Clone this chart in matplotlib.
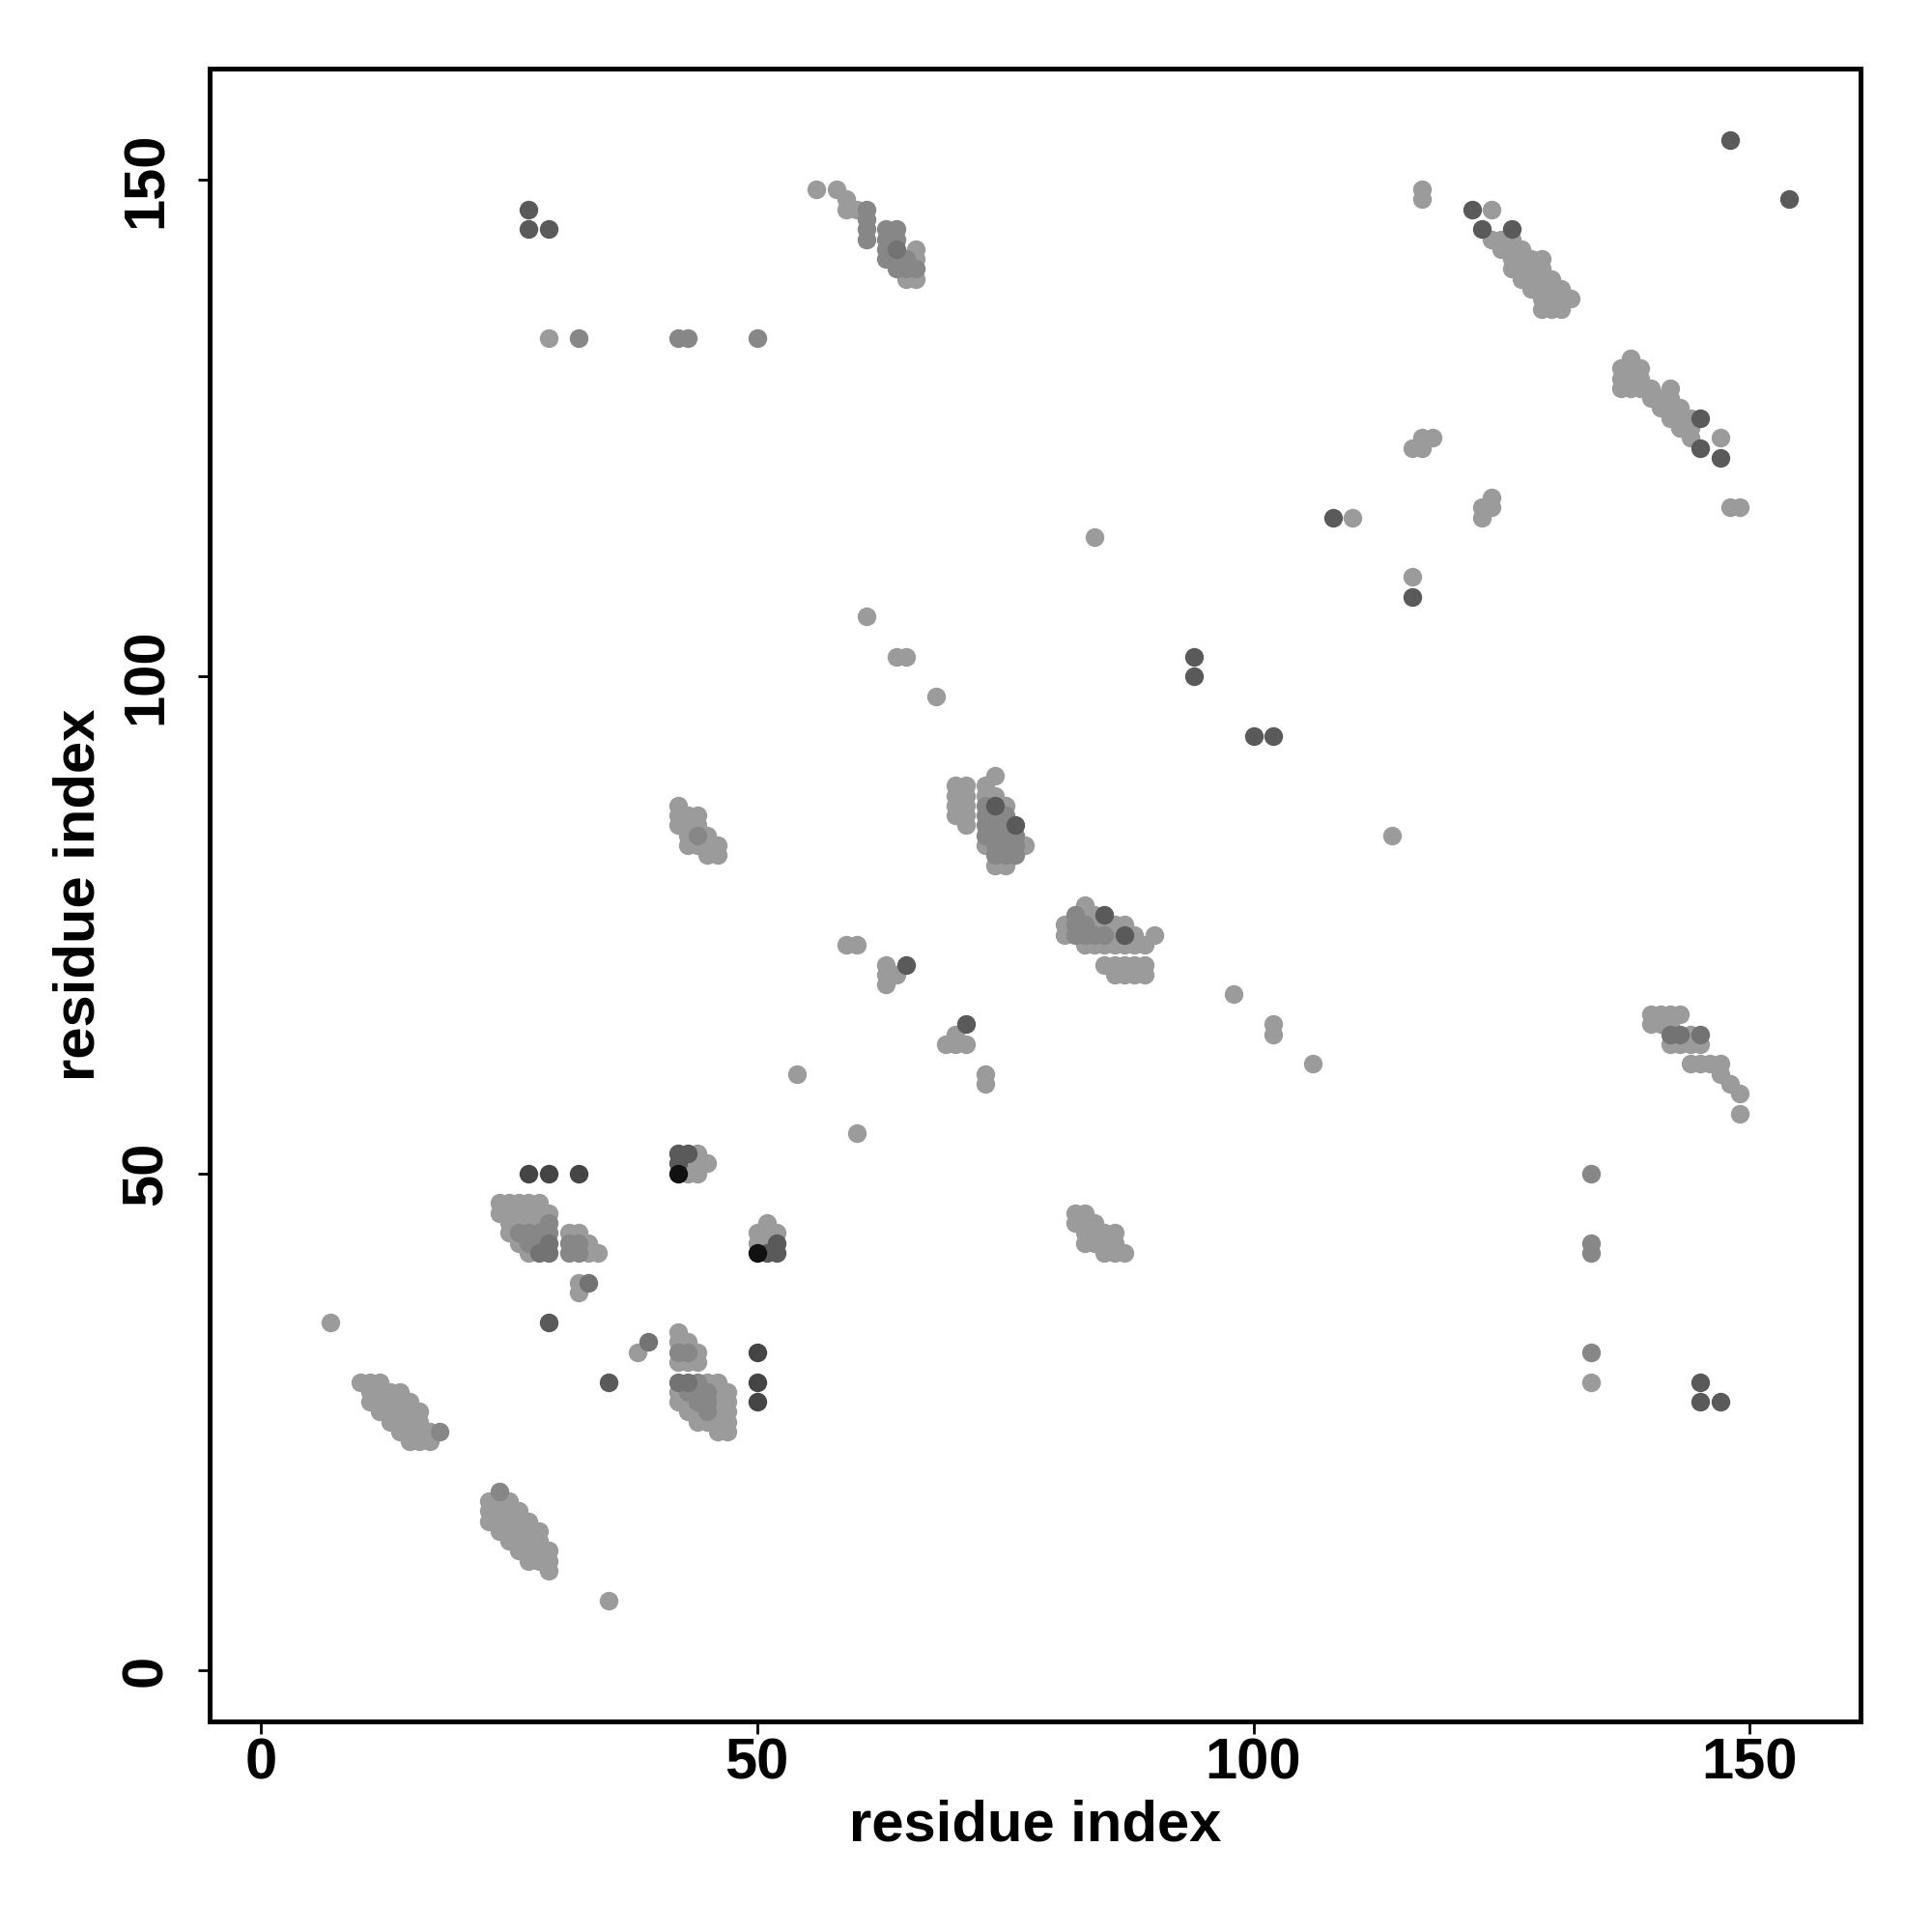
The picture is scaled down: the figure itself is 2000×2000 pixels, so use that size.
import numpy as np
import matplotlib
matplotlib.use('Agg')
from matplotlib import pyplot as plt

# contact pairs (residue i, residue j), grouped by grey level of the dot
light_pts = [
    # isolated contacts
    (7, 35), (35, 7), (54, 60), (60, 54), (59, 73), (60, 73), (63, 71), (63, 70), (63, 69), (64, 70),
    (69, 63), (70, 63), (71, 63), (70, 64), (73, 60), (73, 59), (98, 68), (102, 65), (102, 64), (106, 61),
    (114, 84), (84, 114), (61, 106), (64, 102), (65, 102), (68, 98), (110, 116), (116, 110),
    (116, 123), (117, 123), (117, 124), (118, 124), (123, 116), (123, 117), (124, 117), (124, 118),
    (117, 149), (117, 148), (124, 147), (147, 124), (148, 117), (149, 117), (29, 134), (134, 29),
    (38, 32), (32, 39), (32, 38),
    # block 10-18 / 23-29
    (10, 29), (11, 29), (12, 29), (11, 28), (12, 28), (13, 28), (14, 28),
    (11, 27), (12, 27), (13, 27), (14, 27), (15, 27), (12, 26), (13, 26), (14, 26), (15, 26), (16, 26),
    (13, 25), (14, 25), (15, 25), (16, 25), (14, 24), (15, 24), (16, 24), (17, 24), (15, 23), (16, 23), (17, 23),
    # block 23-29 / 10-18
    (23, 17), (24, 17), (25, 17), (23, 16), (24, 16), (25, 16), (26, 16),
    (23, 15), (24, 15), (25, 15), (26, 15), (27, 15), (24, 14), (25, 14), (26, 14), (27, 14), (28, 14),
    (25, 13), (26, 13), (27, 13), (28, 13), (26, 12), (27, 12), (28, 12), (29, 12),
    (27, 11), (28, 11), (29, 11), (29, 10),
    # block 24-29 / 42-47
    (24, 47), (25, 47), (26, 47), (27, 47), (28, 47), (24, 46), (25, 46), (26, 46), (27, 46), (28, 46),
    (29, 46), (25, 45), (26, 45), (27, 45), (28, 45), (25, 44), (26, 43), (27, 42),
    # block 31-34 / 42-44
    (31, 44), (32, 44), (33, 43), (33, 42), (34, 42),
    # 42-45 / 50-52 and 50-52 / 42-45
    (44, 52), (43, 51), (44, 51), (45, 51), (43, 50), (44, 50),
    (51, 45), (50, 44), (51, 44), (52, 44), (50, 43), (51, 43),
    # 42-44 / 31-34
    (42, 34), (42, 33), (43, 33), (44, 32), (42, 31), (43, 31), (44, 31),
    # 42-47 / 24-29
    (45, 29), (46, 29), (42, 28), (46, 28), (47, 28), (42, 27), (43, 27), (46, 27), (47, 27),
    (43, 26), (44, 26), (46, 26), (47, 26), (44, 25), (45, 25), (46, 25), (47, 25), (46, 24), (47, 24),
    # 42-46 / 82-87
    (42, 87), (42, 86), (42, 85), (43, 86), (43, 85), (43, 84), (43, 83), (44, 86), (44, 85), (44, 83),
    (45, 84), (45, 83), (45, 82), (46, 83), (46, 82),
    # 70-77 / 81-90
    (70, 89), (70, 88), (70, 87), (70, 86), (71, 89), (71, 88), (71, 87), (71, 86), (71, 85),
    (73, 89), (73, 88), (74, 90), (74, 88), (75, 87), (77, 83), (74, 81), (75, 81), (73, 83),
    # 81-90 / 70-77
    (83, 77), (83, 76), (84, 76), (81, 75), (84, 75), (85, 75), (86, 75), (87, 75), (81, 74), (86, 74),
    (88, 74), (90, 74), (83, 73), (84, 73), (85, 73), (86, 73), (87, 73), (88, 73), (89, 73),
    (85, 71), (86, 71), (87, 71), (88, 71), (89, 71), (86, 70), (87, 70), (88, 70), (89, 70),
    # 82-87 / 42-46
    (82, 46), (83, 46), (82, 45), (83, 45), (84, 45), (83, 44), (84, 44), (85, 44), (86, 44),
    (83, 43), (84, 43), (85, 43), (86, 43), (85, 42), (86, 42), (87, 42),
    # 56-66 / 140-149
    (56, 149), (58, 149), (59, 148), (59, 147), (60, 147), (66, 143), (66, 142), (65, 140), (66, 140),
    # 124-132 / 137-144
    (124, 144), (125, 144), (126, 144), (125, 143), (126, 143), (127, 143), (126, 142), (127, 142),
    (128, 142), (129, 142), (126, 141), (127, 141), (128, 141), (129, 141), (127, 140), (128, 140),
    (129, 140), (130, 140), (128, 139), (129, 139), (130, 139), (131, 139), (129, 138), (130, 138),
    (131, 138), (132, 138), (129, 137), (130, 137), (131, 137),
    # 137-144 / 124-132
    (137, 131), (137, 130), (137, 129), (138, 132), (138, 131), (138, 130), (138, 129), (139, 131),
    (139, 130), (139, 129), (140, 129), (140, 128), (141, 128), (141, 127), (142, 129), (142, 128),
    (142, 127), (142, 126), (143, 127), (143, 126), (143, 125), (144, 126), (144, 125), (144, 124),
    # 140-149 / 56-66
    (140, 66), (141, 66), (142, 66), (143, 66), (140, 65), (141, 65), (142, 65), (144, 64),
    (142, 63), (143, 63), (144, 63), (145, 63), (144, 61), (145, 61), (146, 61), (147, 61),
    (147, 60), (148, 59), (149, 58), (149, 56),
]

mid_pts = [
    (134, 50), (134, 43), (134, 42), (134, 32), (32, 134), (42, 134), (43, 134), (50, 134),
    (18, 24), (24, 18),
    (29, 45), (26, 44), (27, 44), (28, 44), (29, 44), (27, 43), (28, 43),
    (31, 43), (32, 43), (31, 42), (32, 42),
    (42, 32), (43, 32),
    (44, 29), (43, 28), (44, 28), (45, 28), (44, 27), (45, 27), (45, 26),
    (44, 84),
    (73, 87), (73, 86), (73, 85), (73, 84), (74, 86), (74, 85), (74, 84), (74, 83), (74, 82),
    (75, 86), (75, 85), (75, 84), (75, 83), (75, 82), (76, 84), (76, 83), (76, 82),
    (82, 76), (82, 75), (83, 75), (82, 74), (83, 74), (84, 74), (85, 74),
    (61, 147), (61, 146), (61, 145), (61, 144), (63, 145), (64, 145), (63, 144), (64, 144),
    (63, 143), (63, 142), (64, 142), (64, 141), (65, 142), (65, 141), (66, 141),
]

middark_pts = [
    (28, 42), (29, 43), (29, 42), (42, 29), (43, 29), (33, 39), (39, 33),
    (64, 143), (143, 64), (142, 64), (145, 64),
]

dark_pts = [
    (29, 35), (35, 29), (65, 71), (71, 65), (42, 52), (43, 52), (42, 51),
    (52, 43), (51, 42), (52, 42), (74, 87), (76, 85), (85, 76), (87, 74),
    (27, 147), (27, 145), (29, 145), (122, 147), (123, 145), (126, 145),
    (145, 126), (145, 123), (147, 122), (148, 154), (154, 148),
    (94, 102), (94, 100), (100, 94), (102, 94), (108, 116), (116, 108),
    (145, 29), (145, 27), (147, 27),
]

darker_pts = [(27, 50), (29, 50), (32, 50), (50, 32), (50, 29), (50, 27)]

black_pts = [(42, 50), (50, 42)]

groups = [light_pts, mid_pts, middark_pts, dark_pts, darker_pts, black_pts]
greys = ['#9b9b9b', '#878787', '#737373', '#5a5a5a', '#454545', '#111111']

plt.rcParams['font.family'] = ['Liberation Sans', 'DejaVu Sans']
plt.rcParams['font.weight'] = 'bold'

fig = plt.figure(figsize=(20, 20), dpi=100)
ax = fig.add_axes([0.1085, 0.109, 0.8545, 0.8555])

for pts, col in zip(groups, greys):
    xy = np.array(pts)
    ax.scatter(xy[:, 0], xy[:, 1], s=195, c=col, linewidths=0, zorder=3)

ax.set_xlim(-5.16, 161.16)
ax.set_ylim(-5.16, 161.16)
ax.set_xticks([0, 50, 100, 150])
ax.set_yticks([0, 50, 100, 150])

for sp in ax.spines.values():
    sp.set_linewidth(3.6)
    sp.set_color('black')

ax.tick_params(axis='both', direction='out', length=9, width=2, labelsize=43)
ax.tick_params(axis='x', pad=3)
ax.tick_params(axis='y', pad=18)
for lab in ax.get_xticklabels():
    lab.set_fontweight('bold')
for lab in ax.get_yticklabels():
    lab.set_fontweight('bold')
    lab.set_rotation(90)
    lab.set_va('center')

ax.set_xlabel('residue index', fontsize=43, fontweight='bold')
ax.set_ylabel('residue index', fontsize=43, fontweight='bold')
ax.xaxis.set_label_coords(0.5, -0.047)
ax.yaxis.set_label_coords(-0.063, 0.5)

fig.savefig('out.png', dpi=100, facecolor='white')
